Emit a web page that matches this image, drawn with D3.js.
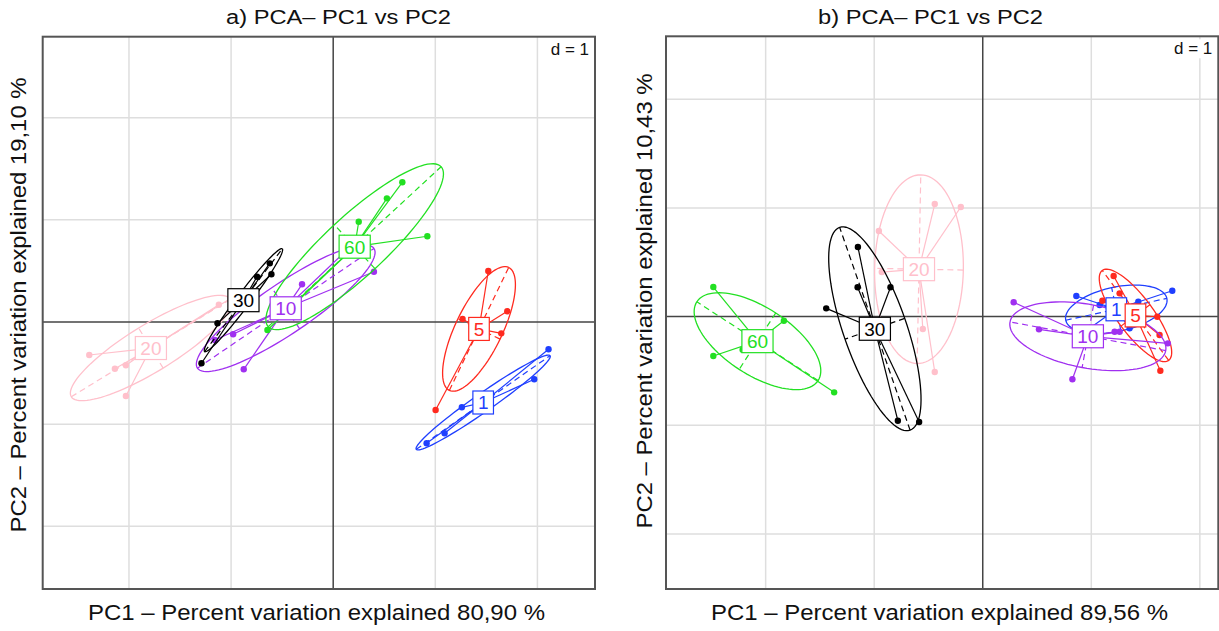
<!DOCTYPE html>
<html>
<head>
<meta charset="utf-8">
<script src="https://cdn.jsdelivr.net/npm/d3@7"></script>
<style>
  html, body { margin: 0; padding: 0; background: #ffffff; }
  svg { display: block; }
  text { font-family: "Liberation Sans", Arial, sans-serif; }
</style>
</head>
<body>
<svg id="chart" width="1219" height="631"></svg>
<script>
// Class levels (treatment groups) and their colours
const classes = ["1", "5", "10", "20", "30", "60"];
const classColors = ["#1f3fff", "#ff2a1f", "#a030f0", "#ffc0cb", "#000000", "#22e022"];

// Panel a: PCA row scores (PC1, PC2) per class
const scoresA_1  = [[2.109, -0.267], [1.969, -0.561], [1.260, -0.835], [1.091, -1.089], [0.915, -1.187], [1.469, -0.788]];
const scoresA_5  = [[1.519, 0.499], [1.705, 0.105], [1.267, 0.029], [1.646, -0.111], [1.003, -0.861], [1.428, -0.068]];
const scoresA_10 = [[-0.305, 0.369], [-0.980, -0.120], [-0.876, -0.463], [0.399, 0.492], [-1.159, -0.176], [0.131, 0.702]];
const scoresA_20 = [[-2.389, -0.323], [-2.138, -0.457], [-2.030, -0.424], [-2.030, -0.724], [-1.120, 0.169], [-1.006, 0.230]];
const scoresA_30 = [[-0.621, 0.574], [-0.746, 0.443], [-0.605, 0.467], [-1.290, -0.404], [-1.133, -0.013], [-0.879, 0.213]];
const scoresA_60 = [[0.677, 1.367], [0.526, 1.210], [0.250, 0.981], [0.922, 0.839], [-0.644, -0.078], [-0.469, 0.102]];

// Panel b: PCA row scores (PC1, PC2) per class
const scoresB_1  = [[0.862, 0.190], [1.746, 0.238], [1.433, 0.137], [1.353, -0.108], [1.077, 0.107], [0.911, -0.160]];
const scoresB_5  = [[1.206, 0.374], [1.261, 0.214], [1.102, 0.146], [1.608, -0.001], [1.629, -0.169], [1.636, -0.498]];
const scoresB_10 = [[0.285, 0.132], [0.518, -0.117], [0.826, -0.577], [1.215, -0.139], [1.261, -0.139], [1.705, -0.246]];
const scoresB_20 = [[-0.442, 1.036], [-0.202, 1.009], [-0.957, 0.788], [-0.930, 0.410], [-0.552, -0.114], [-0.442, -0.510]];
const scoresB_30 = [[-1.150, 0.641], [-1.153, 0.270], [-0.850, 0.270], [-1.442, 0.076], [-0.782, -0.958], [-0.586, -0.970]];
const scoresB_60 = [[-2.482, 0.272], [-1.832, -0.038], [-2.482, -0.363], [-2.212, -0.305], [-1.369, -0.697], [-2.075, -0.225]];

// Plot windows in score units
const xDomainA = [-2.845, 2.564], yDomainA = [-2.613, 2.792];
const xDomainB = [-2.918, 2.170], yDomainB = [-2.507, 2.580];

// Text
const titles = ["a) PCA\u2013 PC1 vs PC2", "b) PCA\u2013 PC1 vs PC2"];
const xTitles = ["PC1 \u2013 Percent variation explained 80,90 %", "PC1 \u2013 Percent variation explained 89,56 %"];
const yTitles = ["PC2 \u2013 Percent variation explained 19,10 %", "PC2 \u2013 Percent variation explained 10,43 %"];
const gridStep = 1;
const ellipseCoef = 1.5;

const panels = [
  { id: "a", box: [42.7, 36.7, 595, 589], xd: xDomainA, yd: yDomainA,
    groups: [scoresA_1, scoresA_5, scoresA_10, scoresA_20, scoresA_30, scoresA_60],
    title: titles[0], xt: xTitles[0], yt: yTitles[0], titleX: 338.5, xtX: 316.5, ytX: 18, ytY: 305 },
  { id: "b", box: [666, 36.3, 1218.3, 589], xd: xDomainB, yd: yDomainB,
    groups: [scoresB_1, scoresB_5, scoresB_10, scoresB_20, scoresB_30, scoresB_60],
    title: titles[1], xt: xTitles[1], yt: yTitles[1], titleX: 930.5, xtX: 939.5, ytX: 644, ytY: 301 }
];

const svg = d3.select("#chart");

// uniform-weight mean and covariance, as used for class ellipses
function classStats(pts) {
  const n = pts.length;
  const mx = d3.mean(pts, d => d[0]), my = d3.mean(pts, d => d[1]);
  let vx = 0, vy = 0, cxy = 0;
  pts.forEach(([x, y]) => { vx += (x - mx) ** 2 / n; vy += (y - my) ** 2 / n; cxy += (x - mx) * (y - my) / n; });
  const delta = Math.sqrt((vx - vy) ** 2 + 4 * cxy * cxy);
  const l1 = (vx + vy + delta) / 2, l2 = Math.max(vx + vy - l1, 0);
  let ang;
  if (Math.abs(cxy) < 1e-12) ang = vx >= vy ? 0 : Math.PI / 2;
  else ang = Math.atan2(l1 - vx, cxy);
  return { mx, my, a: ellipseCoef * Math.sqrt(l1), b: ellipseCoef * Math.sqrt(l2), ang };
}

panels.forEach((p) => {
  const [x0, y0, x1, y1] = p.box;
  const x = d3.scaleLinear().domain(p.xd).range([x0, x1]);
  const y = d3.scaleLinear().domain(p.yd).range([y1, y0]);
  const g = svg.append("g");

  const clipId = "clip-" + p.id;
  svg.append("clipPath").attr("id", clipId)
    .append("rect").attr("x", x0).attr("y", y0).attr("width", x1 - x0).attr("height", y1 - y0);

  const plot = g.append("g").attr("clip-path", `url(#${clipId})`);

  // grid
  const gx = d3.range(Math.ceil(p.xd[0] / gridStep), Math.floor(p.xd[1] / gridStep) + 1).map(k => k * gridStep);
  const gy = d3.range(Math.ceil(p.yd[0] / gridStep), Math.floor(p.yd[1] / gridStep) + 1).map(k => k * gridStep);
  plot.selectAll(".gv").data(gx.filter(v => v !== 0)).join("line")
    .attr("x1", d => x(d)).attr("x2", d => x(d)).attr("y1", y0).attr("y2", y1)
    .attr("stroke", "#dedede").attr("stroke-width", 1.5);
  plot.selectAll(".gh").data(gy.filter(v => v !== 0)).join("line")
    .attr("y1", d => y(d)).attr("y2", d => y(d)).attr("x1", x0).attr("x2", x1)
    .attr("stroke", "#dedede").attr("stroke-width", 1.5);
  // origin axes
  plot.append("line").attr("x1", x(0)).attr("x2", x(0)).attr("y1", y0).attr("y2", y1)
    .attr("stroke", "#444").attr("stroke-width", 1.5);
  plot.append("line").attr("y1", y(0)).attr("y2", y(0)).attr("x1", x0).attr("x2", x1)
    .attr("stroke", "#444").attr("stroke-width", 1.5);

  // "d = 1" grid size note
  const dLab = plot.append("text").attr("x", x1 - 6).attr("y", y0 + 18)
    .attr("text-anchor", "end").attr("font-size", 17).attr("fill", "#111").text("d = " + gridStep);
  const bb = dLab.node().getBBox();
  plot.insert("rect", "text:last-of-type").attr("x", bb.x - 2).attr("y", bb.y).attr("width", bb.width + 4).attr("height", bb.height)
    .attr("fill", "#fff");

  const stats = p.groups.map(classStats);

  // stars, ellipses and points
  p.groups.forEach((pts, gi) => {
    const col = classColors[gi];
    const s = stats[gi];
    const gg = plot.append("g");
    gg.selectAll("line.star").data(pts).join("line")
      .attr("x1", x(s.mx)).attr("y1", y(s.my))
      .attr("x2", d => x(d[0])).attr("y2", d => y(d[1]))
      .attr("stroke", col).attr("stroke-width", 1.2);
    const ell = d3.range(0, 101).map(k => {
      const t = (k / 100) * 2 * Math.PI;
      const ex = s.a * Math.cos(t), ey = s.b * Math.sin(t);
      return [s.mx + ex * Math.cos(s.ang) - ey * Math.sin(s.ang), s.my + ex * Math.sin(s.ang) + ey * Math.cos(s.ang)];
    });
    gg.append("path")
      .attr("d", d3.line().x(d => x(d[0])).y(d => y(d[1]))(ell))
      .attr("fill", "none").attr("stroke", col).attr("stroke-width", 1.3);
    const axes = [
      [[s.mx - s.a * Math.cos(s.ang), s.my - s.a * Math.sin(s.ang)], [s.mx + s.a * Math.cos(s.ang), s.my + s.a * Math.sin(s.ang)]],
      [[s.mx + s.b * Math.sin(s.ang), s.my - s.b * Math.cos(s.ang)], [s.mx - s.b * Math.sin(s.ang), s.my + s.b * Math.cos(s.ang)]]
    ];
    gg.selectAll("line.axis").data(axes).join("line")
      .attr("x1", d => x(d[0][0])).attr("y1", d => y(d[0][1]))
      .attr("x2", d => x(d[1][0])).attr("y2", d => y(d[1][1]))
      .attr("stroke", col).attr("stroke-width", 1.2).attr("stroke-dasharray", "6,4");
    gg.selectAll("circle").data(pts).join("circle")
      .attr("cx", d => x(d[0])).attr("cy", d => y(d[1])).attr("r", 3.2).attr("fill", col);
  });

  // class labels at centroids
  stats.forEach((s, gi) => {
    const col = classColors[gi];
    const lg = plot.append("g").attr("transform", `translate(${x(s.mx)},${y(s.my)})`);
    const t = lg.append("text").attr("text-anchor", "middle").attr("dy", "0.36em")
      .attr("font-size", 19).attr("fill", col).text(classes[gi]);
    const w = t.node().getComputedTextLength();
    lg.insert("rect", "text").attr("x", -w / 2 - 5).attr("y", -11.5).attr("width", w + 10).attr("height", 23)
      .attr("fill", "#fff").attr("stroke", col).attr("stroke-width", 1.2);
  });

  // frame
  g.append("rect").attr("x", x0).attr("y", y0).attr("width", x1 - x0).attr("height", y1 - y0)
    .attr("fill", "none").attr("stroke", "#555").attr("stroke-width", 2);

  // titles
  g.append("text").attr("x", p.titleX).attr("y", 24).attr("text-anchor", "middle")
    .attr("font-size", 20).attr("textLength", 225).attr("lengthAdjust", "spacingAndGlyphs")
    .attr("fill", "#111").text(p.title);
  g.append("text").attr("x", p.xtX).attr("y", 620).attr("text-anchor", "middle")
    .attr("font-size", 22).attr("textLength", 457).attr("lengthAdjust", "spacingAndGlyphs")
    .attr("fill", "#111").text(p.xt);
  g.append("text").attr("transform", `translate(${p.ytX},${p.ytY}) rotate(-90)`)
    .attr("text-anchor", "middle").attr("dy", "0.35em")
    .attr("font-size", 22).attr("textLength", 455).attr("lengthAdjust", "spacingAndGlyphs")
    .attr("fill", "#111").text(p.yt);
});
</script>
</body>
</html>
